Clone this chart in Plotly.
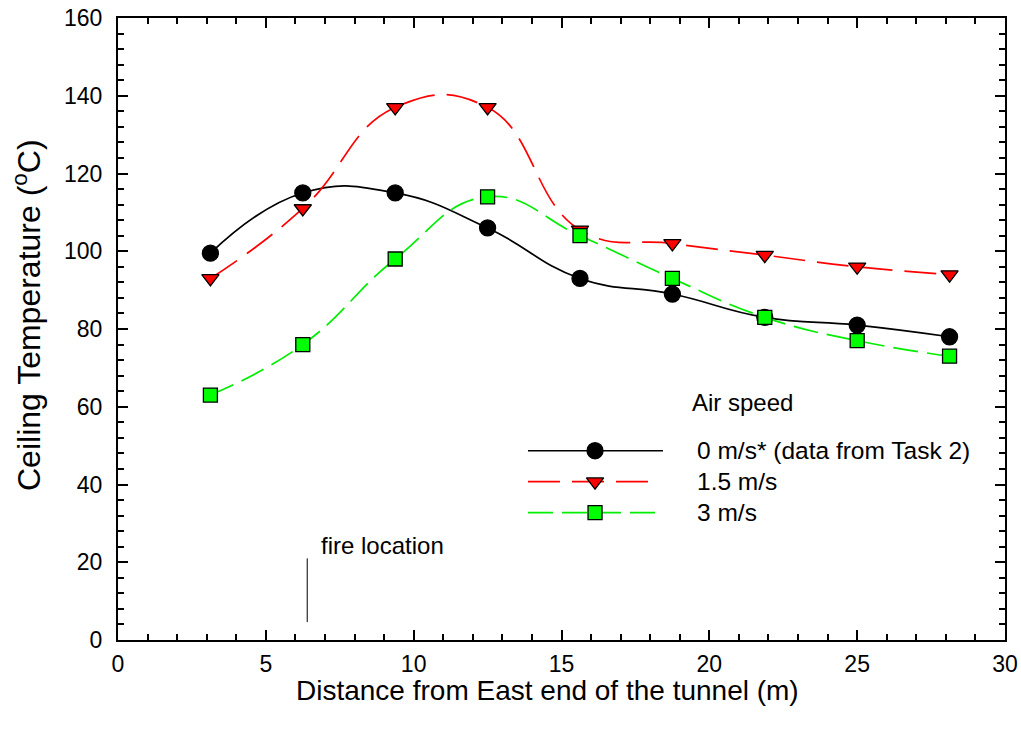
import plotly.graph_objects as go

# ---- data ----
distance = [3.125, 6.25, 9.375, 12.5, 15.625, 18.75, 21.875, 25.0, 28.125]
temp_0ms = [99.5, 115, 115, 106, 93, 89, 83, 81, 78]
temp_15ms = [93, 111, 137, 137, 105.5, 102, 99, 96, 94]
temp_3ms = [63, 76, 98, 114, 104, 93, 83, 77, 73]

series_names = ["0 m/s* (data from Task 2)", "1.5 m/s", "3 m/s"]
x_ticks = [0, 5, 10, 15, 20, 25, 30]
y_ticks = [0, 20, 40, 60, 80, 100, 120, 140, 160]

fire_x = 6.4
fire_y = [4.6, 21]

FONT = "Liberation Sans, Arial, sans-serif"

styles = [
    dict(color="black", dash="solid", symbol="circle", fill="black", size=16),
    dict(color="#ff0000", dash="32px,12px", symbol="triangle-down", fill="#ff0000", size=15),
    dict(color="#00ee00", dash="25px,9px", symbol="square", fill="#00ff00", size=14),
]
series = [temp_0ms, temp_15ms, temp_3ms]

fig = go.Figure()

for vals, st, name in zip(series, styles, series_names):
    fig.add_trace(go.Scatter(
        x=distance, y=vals, mode="lines+markers", name=name,
        line=dict(color=st["color"], width=1.7, dash=st["dash"], shape="spline", smoothing=1.3),
        marker=dict(symbol=st["symbol"], size=st["size"], color=st["fill"],
                    line=dict(color="black", width=1.3)),
        showlegend=False,
    ))

# ---- manual legend on overlay axes (paper-like 0..1 coords) ----
leg_x0, leg_xm = 0.4622, 0.5378
leg_ys = [0.3043, 0.2545, 0.2047]
leg_x1s = [0.6144, 0.6000, 0.6060]
for st, name, ly, lx1 in zip(styles, series_names, leg_ys, leg_x1s):
    fig.add_trace(go.Scatter(
        x=[leg_x0, lx1], y=[ly, ly], mode="lines", xaxis="x2", yaxis="y2",
        line=dict(color=st["color"], width=1.7, dash=st["dash"]),
        showlegend=False, hoverinfo="skip",
    ))
    fig.add_trace(go.Scatter(
        x=[leg_xm], y=[ly], mode="markers", xaxis="x2", yaxis="y2",
        marker=dict(symbol=st["symbol"], size=st["size"], color=st["fill"],
                    line=dict(color="black", width=1.3)),
        showlegend=False, hoverinfo="skip",
    ))
    fig.add_annotation(x=0.6505, y=ly, xref="x2", yref="y2", text=name, showarrow=False,
                       xanchor="left", yanchor="middle", font=dict(family=FONT, size=24.5, color="black"))

fig.add_annotation(x=0.6449, y=0.3826, xref="x2", yref="y2", text="Air speed", showarrow=False,
                   xanchor="left", yanchor="middle", font=dict(family=FONT, size=24, color="black"))

# fire location marker
fig.add_shape(type="line", x0=fire_x, x1=fire_x, y0=fire_y[0], y1=fire_y[1],
              xref="x", yref="y", line=dict(color="black", width=1))
fig.add_annotation(x=6.8, y=24.4, xref="x", yref="y", text="fire location", showarrow=False,
                   xanchor="left", yanchor="middle", font=dict(family=FONT, size=24, color="black"))

# axis titles as annotations (positioned like the reference)
fig.add_annotation(x=0.4837, y=-0.0804, xref="paper", yref="paper",
                   text="Distance from East end of the tunnel (m)", showarrow=False,
                   xanchor="center", yanchor="middle", font=dict(family=FONT, size=28, color="black"))
fig.add_annotation(x=-0.1026, y=0.5225, xref="paper", yref="paper",
                   text="Ceiling Temperature (<sup>o</sup>C)", showarrow=False, textangle=-90,
                   xanchor="center", yanchor="middle", font=dict(family=FONT, size=32, color="black"))

axis_common = dict(
    showline=True, linecolor="black", linewidth=2, mirror="ticks",
    ticks="inside", ticklen=10, tickwidth=1.5, tickcolor="black",
    showgrid=False, zeroline=False, automargin=False,
    tickfont=dict(family=FONT, size=23, color="black"),
)

fig.update_layout(
    width=1021, height=734,
    margin=dict(l=118, r=16, t=18, b=94),
    paper_bgcolor="white", plot_bgcolor="white",
    font=dict(family=FONT, color="black"),
    xaxis=dict(range=[0, 30], tickvals=x_ticks, ticklabelstandoff=2,
               minor=dict(dtick=1, ticks="inside", ticklen=6, tickwidth=1.5, tickcolor="black"),
               **axis_common),
    yaxis=dict(range=[0, 160], tickvals=y_ticks, ticklabelstandoff=9,
               minor=dict(dtick=4, ticks="inside", ticklen=6, tickwidth=1.5, tickcolor="black"),
               **axis_common),
    xaxis2=dict(range=[0, 1], overlaying="x", visible=False),
    yaxis2=dict(range=[0, 1], overlaying="y", visible=False),
    showlegend=False,
)

fig.write_html("out.html")
